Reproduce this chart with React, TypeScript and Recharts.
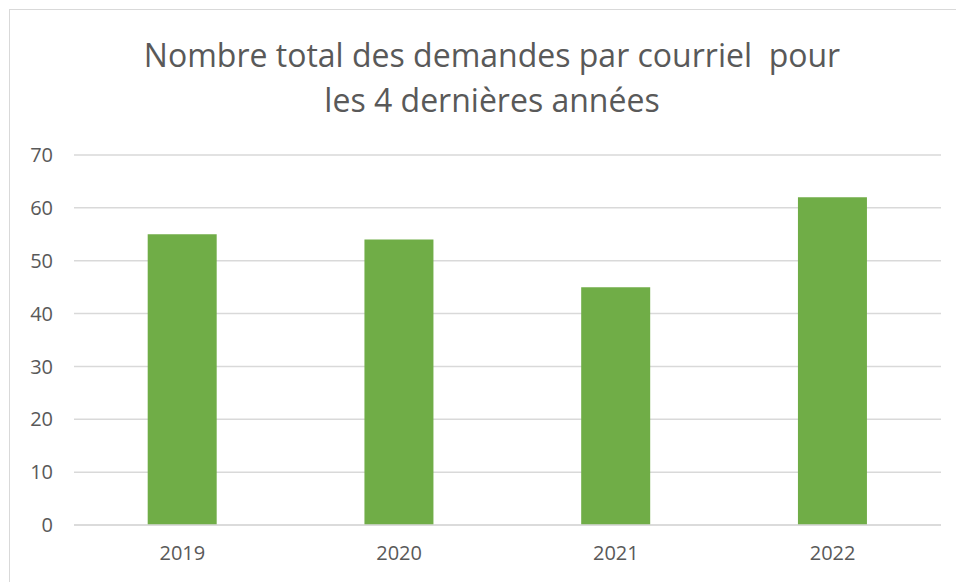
import React from "react";
import { BarChart, Bar, XAxis, YAxis, CartesianGrid } from "recharts";

const categories = ["2019", "2020", "2021", "2022"];
const demandes = [55, 54, 45, 62];
const yTicks = [0, 10, 20, 30, 40, 50, 60, 70];
const titleLines = ["Nombre total des demandes par courriel\u00a0 pour", "les 4 dernières années"];

const data = categories.map((c, i) => ({ year: c, value: demandes[i] }));

const FONT = "'Open Sans', 'Noto Sans', sans-serif";
const TEXT = "#595959";

export default function App() {
  return (
    <div
      style={{
        position: "absolute",
        left: 0,
        top: 0,
        width: 956,
        height: 582,
        overflow: "hidden",
        background: "#fff",
        fontFamily: FONT,
      }}
    >
      <div
        style={{
          position: "absolute",
          left: 9,
          top: 9,
          width: 1100,
          height: 1100,
          border: "1.5px solid #d9d9d9",
        }}
      />
      <div
        style={{
          position: "absolute",
          left: 0,
          top: 32,
          width: 984,
          textAlign: "center",
          color: TEXT,
          fontSize: 32,
          lineHeight: "45px",
          fontFamily: FONT,
        }}
      >
        {titleLines.map((t) => (
          <div key={t}>{t}</div>
        ))}
      </div>
      <div style={{ position: "absolute", left: 0, top: 0 }}>
        <BarChart
          width={956}
          height={582}
          data={data}
          margin={{ top: 155, right: 15, bottom: 27, left: 14 }}
          barCategoryGap="34%"
        >
          <CartesianGrid vertical={false} stroke="#d9d9d9" strokeWidth={1.5} />
          <XAxis
            dataKey="year"
            height={30}
            tickLine={false}
            axisLine={{ stroke: "#d9d9d9", strokeWidth: 1.5 }}
            tickSize={0}
            tickMargin={21}
            tick={{ fill: TEXT, fontSize: 20, fontFamily: FONT }}
          />
          <YAxis
            width={60}
            domain={[0, 70]}
            ticks={yTicks}
            interval={0}
            axisLine={false}
            tickLine={false}
            tickSize={0}
            tickMargin={21}
            tick={{ fill: TEXT, fontSize: 20, fontFamily: FONT }}
          />
          <Bar dataKey="value" fill="#70AD47" isAnimationActive={false} />
        </BarChart>
      </div>
    </div>
  );
}
